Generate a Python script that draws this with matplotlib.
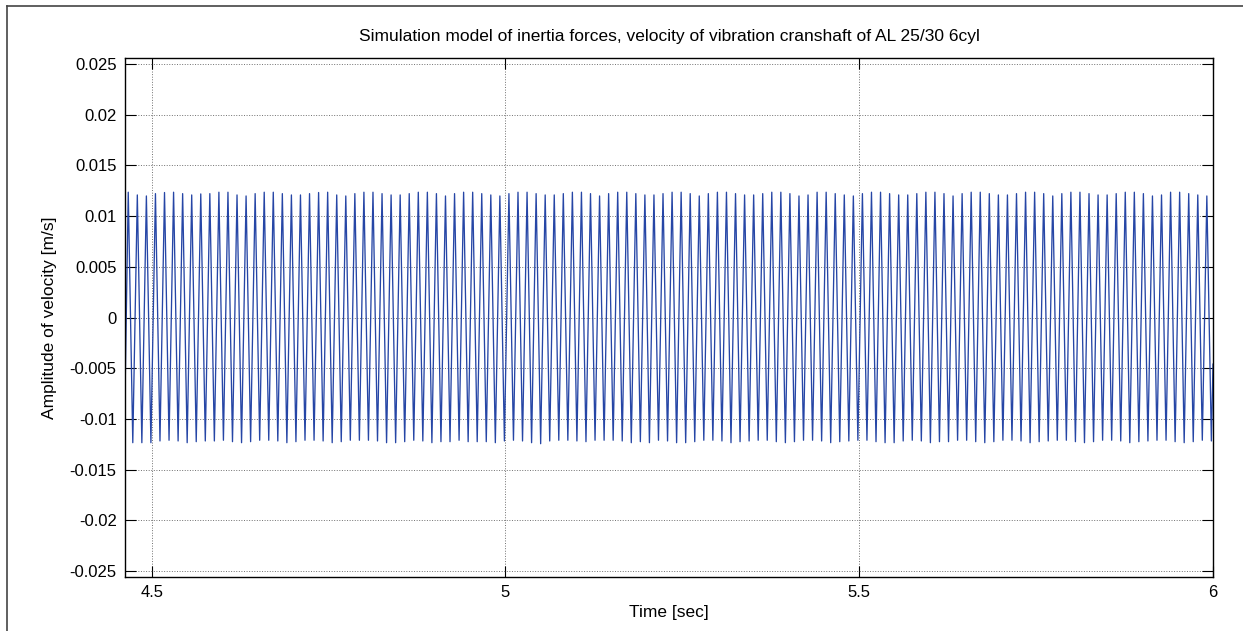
import numpy as np
import matplotlib
matplotlib.use("Agg")
import matplotlib.pyplot as plt
from matplotlib.lines import Line2D

# ---
# DATA
# ---
title = "Simulation model of inertia forces, velocity of vibration cranshaft of AL 25/30 6cyl"
xlabel = "Time [sec]"
ylabel = "Amplitude of velocity [m/s]"

t_start = 4.4623      # first sample [s]
t_end = 6.0           # last sample [s]
t_first_peak = 4.4669 # time of the first maximum [s]
period = 0.01281      # oscillation period [s]
v_start = -0.0078     # value at t_start
v_end = -0.0046       # value at t_end

# successive maxima [m/s]
peaks = [
    0.01236, 0.01209, 0.01199, 0.01222, 0.01233, 0.01236, 0.01222, 0.01209, 0.01219, 0.01222,
    0.01236, 0.01236, 0.01209, 0.01199, 0.01222, 0.01236, 0.01236, 0.01222, 0.01209, 0.01209,
    0.01222, 0.01233, 0.01236, 0.01209, 0.01199, 0.01222, 0.01236, 0.01236, 0.01222, 0.01209,
    0.01209,
    0.01222, 0.01236, 0.01236, 0.01222, 0.01199, 0.01222, 0.01236, 0.01236, 0.01222, 0.01209,
    0.01199, 0.01222, 0.01236, 0.01236, 0.01222, 0.01209, 0.01209, 0.01222, 0.01236, 0.01236,
    0.01222, 0.01199, 0.01222, 0.01236, 0.01236, 0.01222, 0.01209, 0.01209, 0.01222,
    0.01236, 0.01236, 0.01222, 0.01199, 0.01222, 0.01236, 0.01236, 0.01222, 0.01209, 0.01209,
    0.01222, 0.01236, 0.01236, 0.01222, 0.01199, 0.01209, 0.01236, 0.01236, 0.01222, 0.01209,
    0.01199, 0.01222, 0.01236, 0.01236, 0.01222, 0.01209, 0.01209, 0.01222, 0.01236, 0.01236,
    0.01222, 0.01199, 0.01222, 0.01236, 0.01236, 0.01222, 0.01209, 0.01209, 0.01222, 0.01236,
    0.01236, 0.01222, 0.01199, 0.01222, 0.01236, 0.01236, 0.01222, 0.01209, 0.01209, 0.01222,
    0.01236, 0.01236, 0.01222, 0.01199, 0.01209, 0.01236, 0.01236, 0.01222, 0.01209, 0.01199,
]

# successive minima [m/s]
troughs = [
    -0.01235, -0.01235, -0.01235, -0.01218, -0.01211, -0.01218, -0.01235, -0.01225, -0.01218, -0.01218,
    -0.01211, -0.01225, -0.01235, -0.01225, -0.01211, -0.01211, -0.01218, -0.01235, -0.01225, -0.01211,
    -0.01211, -0.01218, -0.01235, -0.01225, -0.01211, -0.01211, -0.01211, -0.01218,
    -0.01235, -0.01235, -0.01225, -0.01211, -0.01218, -0.01235, -0.01225, -0.01225, -0.01211, -0.01225,
    -0.01225, -0.01225, -0.01235, -0.01218, -0.01211, -0.01218, -0.01235, -0.01245, -0.01218, -0.01211,
    -0.01211, -0.01218, -0.01225, -0.01211, -0.01211, -0.01211, -0.01218, -0.01235, -0.01225, -0.01235,
    -0.01211,
    -0.01218, -0.01235, -0.01235, -0.01225, -0.01211, -0.01211, -0.01218, -0.01235, -0.01225,
    -0.01218, -0.01211, -0.01211, -0.01225, -0.01235, -0.01225, -0.01211, -0.01211, -0.01218,
    -0.01235, -0.01225, -0.01218, -0.01211, -0.01211, -0.01225, -0.01235, -0.01235, -0.01218,
    -0.01211, -0.01218, -0.01235, -0.01225, -0.01225, -0.01211, -0.01211, -0.01225, -0.01235,
    -0.01225, -0.01211, -0.01211, -0.01218, -0.01235, -0.01225, -0.01218, -0.01211, -0.01211,
    -0.01225, -0.01235, -0.01225, -0.01211, -0.01211, -0.01218, -0.01235, -0.01225, -0.01218,
    -0.01211, -0.01211, -0.01225, -0.01235, -0.01225, -0.01211, -0.01218,
]

xticks = [4.5, 5.0, 5.5, 6.0]
xtick_labels = ["4.5", "5", "5.5", "6"]
yticks = [-0.025, -0.02, -0.015, -0.01, -0.005, 0, 0.005, 0.01, 0.015, 0.02, 0.025]
ytick_labels = ["-0.025", "-0.02", "-0.015", "-0.01", "-0.005", "0",
                "0.005", "0.01", "0.015", "0.02", "0.025"]
ylim = (-0.0256, 0.0256)

# ---
# BUILD LINE: alternate maxima and minima, half a period apart
# ---
n = len(peaks)
t_peaks = t_first_peak + period * np.arange(n)
t_troughs = t_peaks + period / 2
t = np.empty(2 * n)
v = np.empty(2 * n)
t[0::2], t[1::2] = t_peaks, t_troughs
v[0::2], v[1::2] = peaks, troughs
t = np.concatenate([[t_start], t, [t_end]])
v = np.concatenate([[v_start], v, [v_end]])

# ---
# PLOT
# ---
plt.rcParams["font.family"] = ["Liberation Sans", "DejaVu Sans"]
plt.rcParams["axes.unicode_minus"] = False

fig = plt.figure(figsize=(12.43, 6.31), dpi=100)
ax = fig.add_axes([125 / 1243, 1 - 577 / 631, 1088 / 1243, 519 / 631])

ax.plot(t, v, color="#2646a6", linewidth=0.95)

ax.set_xlim(t_start, t_end)
ax.set_ylim(*ylim)
ax.set_xticks(xticks)
ax.set_xticklabels(xtick_labels)
ax.set_yticks(yticks)
ax.set_yticklabels(ytick_labels)
ax.tick_params(direction="in", length=8, width=0.8, top=True, right=True,
               labelsize=12, pad=6, colors="black")
ax.grid(True, linestyle=":", color="#707070", linewidth=0.7)
for s in ax.spines.values():
    s.set_linewidth(1.0)
    s.set_color("black")

ax.set_title(title, fontsize=12.5, pad=12)
ax.set_xlabel(xlabel, fontsize=12.5, labelpad=3)
ax.set_ylabel(ylabel, fontsize=12.5, labelpad=9)

# outer frame (only left and top edges are visible)
fx = 7.3 / 1243
fy = 1 - 5.7 / 631
fig.add_artist(Line2D([fx, fx], [0, fy], transform=fig.transFigure, color="#444444", lw=1.2))
fig.add_artist(Line2D([fx, 1], [fy, fy], transform=fig.transFigure, color="#444444", lw=1.2))

fig.savefig("out.png", dpi=100)
